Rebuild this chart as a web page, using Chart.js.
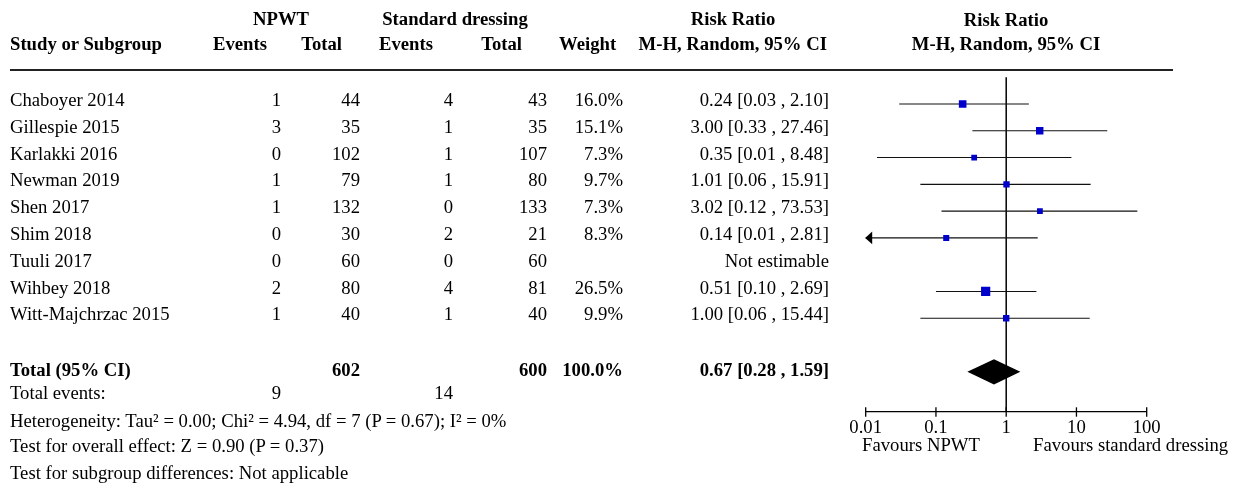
<!DOCTYPE html>
<html>
<head>
<meta charset="utf-8">
<script src="https://cdn.jsdelivr.net/npm/chart.js@4.4.1/dist/chart.umd.min.js"></script>
<style>
  html, body { margin: 0; padding: 0; background: #fff; }
  #wrap { position: relative; width: 1235px; height: 486px; overflow: hidden; }
  #c { position: absolute; left: 0; top: 0; }
  .t { position: absolute; white-space: nowrap; font-family: 'Liberation Serif', 'Times New Roman', serif;
       font-size: 18.7px; line-height: 18.7px; color: #000; }
  .b { font-weight: bold; }
</style>
</head>
<body>
<div id="wrap"><canvas id="c" width="1235" height="486"></canvas></div>
<script>
// ---- data ----
const studies = ['Chaboyer 2014','Gillespie 2015','Karlakki 2016','Newman 2019','Shen 2017','Shim 2018','Tuuli 2017','Wihbey 2018','Witt-Majchrzac 2015'];
const npwtEvents = [1, 3, 0, 1, 1, 0, 0, 2, 1];
const npwtTotal  = [44, 35, 102, 79, 132, 30, 60, 80, 40];
const stdEvents  = [4, 1, 1, 1, 0, 2, 0, 4, 1];
const stdTotal   = [43, 35, 107, 80, 133, 21, 60, 81, 40];
const weights    = [16.0, 15.1, 7.3, 9.7, 7.3, 8.3, null, 26.5, 9.9];
const riskRatio  = [0.24, 3.00, 0.35, 1.01, 3.02, 0.14, null, 0.51, 1.00];
const ciLow      = [0.03, 0.33, 0.0145, 0.06, 0.12, 0.007, null, 0.10, 0.06];
const ciHigh     = [2.10, 27.46, 8.48, 15.91, 73.53, 2.81, null, 2.69, 15.44];
const pooled     = [0.67, 0.28, 1.59];      // estimate, low, high
const sumTotals  = [602, 600];
const sumEvents  = [9, 14];
const sumWeight  = 100.0;
const tickValues = [0.01, 0.1, 1, 10, 100];
const tickLabels = ['0.01', '0.1', '1', '10', '100'];
const pooledRow = 10;

const FONT = "'Liberation Serif', 'Times New Roman', serif";
const FS = 18.7;

function fmtCI(r, l, h) { return r.toFixed(2) + ' [' + l.toFixed(2) + ' , ' + h.toFixed(2) + ']'; }

const squares = [], radii = [];
riskRatio.forEach((r, i) => {
  if (r !== null) {
    squares.push({ x: r, y: i });
    const side = 2 + 1.4 * Math.sqrt(weights[i]);
    radii.push(side / Math.SQRT2);
  }
});

const forestPlugin = {
  id: 'forest',
  beforeDatasetsDraw(chart) {
    const c = chart.ctx, xs = chart.scales.x, ys = chart.scales.y, a = chart.chartArea;
    c.save();
    // header rule
    c.strokeStyle = '#222'; c.lineWidth = 2;
    c.beginPath(); c.moveTo(10, 70); c.lineTo(1173, 70); c.stroke();
    // line of no effect
    const x1 = xs.getPixelForValue(1);
    c.strokeStyle = '#000'; c.lineWidth = 1.5;
    c.beginPath(); c.moveTo(x1, a.top); c.lineTo(x1, a.bottom); c.stroke();
    // confidence intervals
    c.lineWidth = 1.1; c.strokeStyle = '#111'; c.fillStyle = '#000';
    riskRatio.forEach((r, i) => {
      if (r === null) return;
      const y = ys.getPixelForValue(i);
      const lo = Math.max(ciLow[i], xs.min), hi = Math.min(ciHigh[i], xs.max);
      const pl = xs.getPixelForValue(lo), ph = xs.getPixelForValue(hi);
      c.beginPath(); c.moveTo(pl, y); c.lineTo(ph, y); c.stroke();
      if (ciLow[i] < xs.min) {
        c.beginPath(); c.moveTo(pl - 0.5, y); c.lineTo(pl + 6.5, y - 6.3); c.lineTo(pl + 6.5, y + 6.3); c.closePath(); c.fill();
      }
      if (ciHigh[i] > xs.max) {
        c.beginPath(); c.moveTo(ph + 0.5, y); c.lineTo(ph - 6.5, y - 6.3); c.lineTo(ph - 6.5, y + 6.3); c.closePath(); c.fill();
      }
    });
    // pooled diamond
    const yp = ys.getPixelForValue(pooledRow);
    const hh = Math.abs(ys.getPixelForValue(pooledRow + 0.47) - yp);
    c.fillStyle = '#000';
    c.beginPath();
    c.moveTo(xs.getPixelForValue(pooled[1]), yp);
    c.lineTo(xs.getPixelForValue(pooled[0]), yp - hh);
    c.lineTo(xs.getPixelForValue(pooled[2]), yp);
    c.lineTo(xs.getPixelForValue(pooled[0]), yp + hh);
    c.closePath(); c.fill();
    // axis tick marks crossing the axis
    c.strokeStyle = '#000'; c.lineWidth = 1.3;
    xs.ticks.forEach(t => {
      const px = xs.getPixelForValue(t.value);
      c.beginPath(); c.moveTo(px, a.bottom - 4.7); c.lineTo(px, a.bottom + 4.7); c.stroke();
    });
    c.restore();
  }
};

const chart = new Chart(document.getElementById('c'), {
  type: 'scatter',
  data: {
    datasets: [{
      data: squares,
      pointStyle: 'rect',
      pointRadius: radii,
      backgroundColor: '#0000cc',
      borderWidth: 0
    }]
  },
  options: {
    responsive: false,
    animation: false,
    events: [],
    layout: { padding: { left: 865.7, right: 88.3, top: 77.2, bottom: 48 } },
    plugins: { legend: { display: false }, tooltip: { enabled: false } },
    scales: {
      x: {
        type: 'logarithmic', min: 0.01, max: 100, position: 'bottom',
        afterBuildTicks: s => { s.ticks = tickValues.map(v => ({ value: v })); },
        afterFit: s => { s.height = 26; },
        ticks: {
          autoSkip: false, maxRotation: 0, padding: 5, color: '#000',
          font: { family: FONT, size: FS },
          callback: v => { const k = tickValues.indexOf(v); return k >= 0 ? tickLabels[k] : ''; }
        },
        grid: { display: false, drawTicks: false },
        border: { display: true, color: '#000', width: 1.3 }
      },
      y: { type: 'linear', min: -1, max: 11.5, reverse: true, display: false }
    }
  },
  plugins: [forestPlugin]
});

// ---- table text (HTML) ----
const wrap = document.getElementById('wrap');
const ASC = 0.8375 * FS - 2;
function txt(s, x, base, align, bold) {
  const d = document.createElement('div');
  d.className = 't' + (bold ? ' b' : '');
  d.textContent = s;
  d.style.top = (base - ASC) + 'px';
  if (align === 'right') { d.style.right = (1235 - x) + 'px'; }
  else if (align === 'center') { d.style.left = (x - 300) + 'px'; d.style.width = '600px'; d.style.textAlign = 'center'; }
  else { d.style.left = x + 'px'; }
  wrap.appendChild(d);
}

// headers
txt('NPWT', 281, 23.5, 'center', true);
txt('Standard dressing', 455, 23.5, 'center', true);
txt('Risk Ratio', 733, 23.5, 'center', true);
txt('Risk Ratio', 1006, 24.5, 'center', true);
txt('Study or Subgroup', 10, 48.5, 'left', true);
txt('Events', 213, 48.5, 'left', true);
txt('Total', 342, 48.5, 'right', true);
txt('Events', 379, 48.5, 'left', true);
txt('Total', 522, 48.5, 'right', true);
txt('Weight', 559, 48.5, 'left', true);
txt('M-H, Random, 95% CI', 827, 48.5, 'right', true);
txt('M-H, Random, 95% CI', 1006, 49, 'center', true);

// study rows
const ys = chart.scales.y;
studies.forEach((s, i) => {
  const base = ys.getPixelForValue(i) + 0.8;
  txt(s, 10, base, 'left');
  txt(String(npwtEvents[i]), 281, base, 'right');
  txt(String(npwtTotal[i]), 360, base, 'right');
  txt(String(stdEvents[i]), 453, base, 'right');
  txt(String(stdTotal[i]), 547, base, 'right');
  if (weights[i] !== null) txt(weights[i].toFixed(1) + '%', 623, base, 'right');
  txt(riskRatio[i] === null ? 'Not estimable' : fmtCI(riskRatio[i], ciLow[i], ciHigh[i]), 829, base, 'right');
});

// totals
txt('Total (95% CI)', 10, 375, 'left', true);
txt(String(sumTotals[0]), 360, 375, 'right', true);
txt(String(sumTotals[1]), 547, 375, 'right', true);
txt(sumWeight.toFixed(1) + '%', 623, 375, 'right', true);
txt(fmtCI(pooled[0], pooled[1], pooled[2]), 829, 375, 'right', true);
txt('Total events:', 10, 398, 'left');
txt(String(sumEvents[0]), 281, 398, 'right');
txt(String(sumEvents[1]), 453, 398, 'right');
txt('Heterogeneity: Tau² = 0.00; Chi² = 4.94, df = 7 (P = 0.67); I² = 0%', 10, 425.5, 'left');
txt('Test for overall effect: Z = 0.90 (P = 0.37)', 10, 450.5, 'left');
txt('Test for subgroup differences: Not applicable', 10, 478, 'left');

// axis side labels
txt('Favours NPWT', 862, 449.5, 'left');
txt('Favours standard dressing', 1033, 449.5, 'left');
</script>
</body>
</html>
